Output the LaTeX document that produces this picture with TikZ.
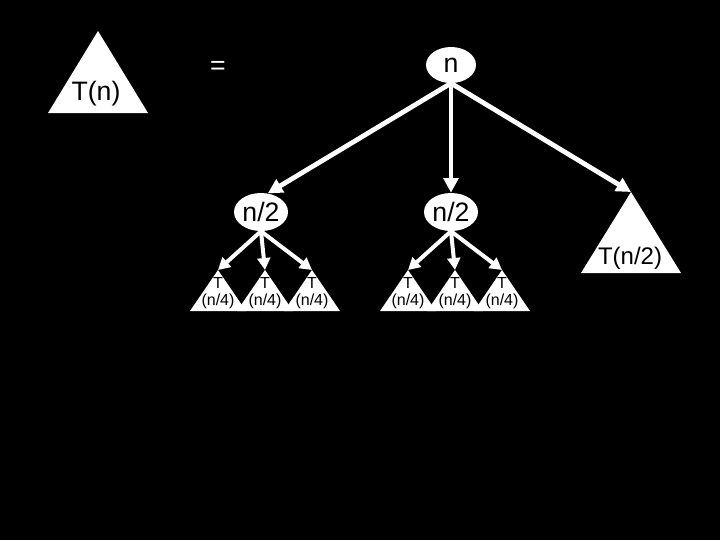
\documentclass[tikz,border=0pt]{standalone}
\usepackage{fontspec}
\setmainfont{Liberation Sans}
\usetikzlibrary{arrows.meta,shapes.geometric}
\begin{document}
\begin{tikzpicture}[x=0.75pt,y=-0.75pt,
 ell/.style={ellipse, fill=white, text=black, inner sep=0pt},
 arr/.style={draw=white, line width=3.6pt, -{Triangle[length=11pt,width=11pt]}},
 sarr/.style={draw=white, line width=3pt, -{Triangle[length=9pt,width=9.5pt]}},
 lbl/.style={text=black, inner sep=0pt},
 big/.style={font=\fontsize{20}{24}\selectfont},
 mid/.style={font=\fontsize{18}{22}\selectfont},
 small/.style={font=\fontsize{12}{14}\selectfont}]
\fill[black] (0,0) rectangle (720,540);
\useasboundingbox (0,0) rectangle (720,540);
% T(n) triangle
\coordinate (ta) at (98,31);
\fill[white] (ta) -- (148,113) -- (48,113) -- cycle;
\node[lbl,big] (tn) at (96,94) {T(n)};
% equals
\node[text=white,big,inner sep=0pt] (eq) at (218,68) {=};
% root
\node[ell,big,minimum width=37.5pt,minimum height=27pt] (n) at (451,65) {n};
% children
\node[ell,big,minimum width=40.5pt,minimum height=28.5pt] (l2) at (261,212) {n/2};
\node[ell,big,minimum width=40.5pt,minimum height=28.5pt] (m2) at (451,212) {n/2};
\coordinate (ra) at (631,192);
\fill[white] (ra) -- (681,273) -- (581,273) -- cycle;
\node[lbl,mid] (tn2) at (630,258) {T(n/2)};
% small triangles
\foreach \x [count=\i] in {218,265,312} {
  \coordinate (a\i) at (\x,270);
  \fill[white] (a\i) -- ++(28,41) -- ++(-56,0) -- cycle;
  \node[lbl,small] (at\i) at (\x,283) {T};
  \node[lbl,small] (an\i) at (\x,301) {(n/4)};
}
\foreach \x [count=\i] in {408,455,502} {
  \coordinate (b\i) at (\x,270);
  \fill[white] (b\i) -- ++(28,41) -- ++(-56,0) -- cycle;
  \node[lbl,small] (bt\i) at (\x,283) {T};
  \node[lbl,small] (bn\i) at (\x,301) {(n/4)};
}
% arrows
\draw[arr] (n.south) -- (l2.70);
\draw[arr] (n.south) -- (m2.north);
\draw[arr] (n.south) -- (ra);
\draw[sarr] (l2.south) -- (a1);
\draw[sarr] (l2.south) -- (a2);
\draw[sarr] (l2.south) -- (a3);
\draw[sarr] (m2.south) -- (b1);
\draw[sarr] (m2.south) -- (b2);
\draw[sarr] (m2.south) -- (b3);
\end{tikzpicture}
\end{document}
